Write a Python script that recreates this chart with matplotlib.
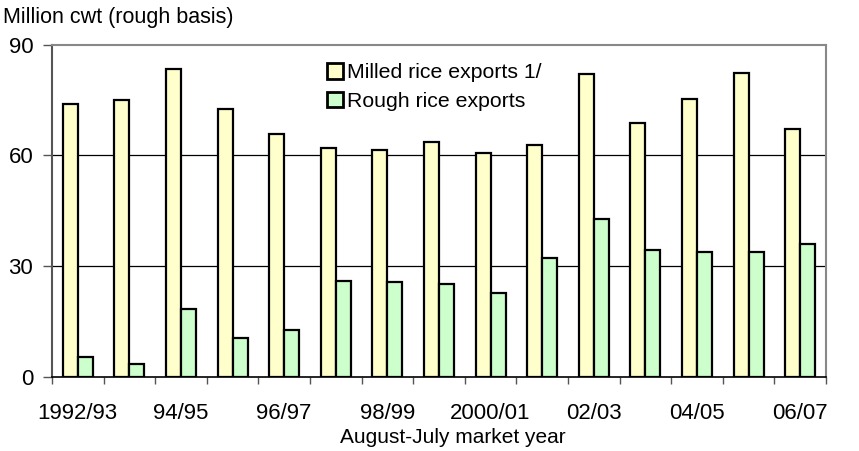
import matplotlib
matplotlib.use("Agg")
import matplotlib.pyplot as plt
import numpy as np

plt.rcParams["font.family"] = ["Liberation Sans", "DejaVu Sans"]

# Market years (August-July)
years = ["1992/93", "93/94", "94/95", "95/96", "96/97", "97/98", "98/99", "99/00",
         "2000/01", "01/02", "02/03", "03/04", "04/05", "05/06", "06/07"]
milled = [73.9, 75.1, 83.5, 72.7, 65.8, 62.0, 61.4, 63.7,
          60.6, 62.7, 82.0, 68.8, 75.3, 82.2, 67.1]
rough = [5.3, 3.4, 18.3, 10.6, 12.7, 26.0, 25.6, 25.0,
         22.8, 32.3, 42.7, 34.3, 33.9, 33.9, 36.0]
yticks = [0, 30, 60, 90]

MILLED_COLOR = "#FFFFCC"
ROUGH_COLOR = "#CCFFCC"

fig = plt.figure(figsize=(8.59, 4.51), dpi=100)
ax = fig.add_axes([0.0605, 0.1647, 0.9011, 0.7362])

x = np.arange(len(years))
w = 0.29
ax.bar(x - w / 2, milled, width=w, color=MILLED_COLOR, edgecolor="black",
       linewidth=1.6, label="Milled rice exports 1/", zorder=3)
ax.bar(x + w / 2, rough, width=w, color=ROUGH_COLOR, edgecolor="black",
       linewidth=1.6, label="Rough rice exports", zorder=3)

ax.set_xlim(-0.5, len(years) - 0.5)
ax.set_ylim(0, 90)

# gridlines at 30 and 60 only
for v in yticks[1:-1]:
    ax.axhline(v, color="black", linewidth=0.9, zorder=1)

ax.set_yticks(yticks)
ax.set_yticklabels([str(v) for v in yticks], fontsize=16)
ax.tick_params(axis="y", direction="out", length=6.5, width=1, pad=7, color="#555555")

# ticks at category boundaries, labels on every other category
ax.set_xticks(np.arange(len(years) + 1) - 0.5)
ax.set_xticklabels([])
ax.tick_params(axis="x", direction="out", length=5, width=1, color="#555555")
ax.set_xticks(x[::2], minor=True)
ax.set_xticklabels(years[::2], minor=True, fontsize=16)
ax.tick_params(axis="x", which="minor", length=0, pad=19)

for side in ["top", "right"]:
    ax.spines[side].set_color("#888888")
    ax.spines[side].set_linewidth(1.5)
ax.spines["left"].set_color("#555555")
ax.spines["left"].set_linewidth(1.5)
ax.spines["bottom"].set_color("black")
ax.spines["bottom"].set_linewidth(1.2)

fig.text(0.004, 0.962, "Million cwt (rough basis)", fontsize=15.5, va="center", ha="left")
fig.text(0.527, 0.029, "August-July market year", fontsize=15, va="center", ha="center")

leg = ax.legend(loc="upper left", bbox_to_anchor=(0.381, 0.86),
                bbox_transform=fig.transFigure, frameon=False, fontsize=15.3,
                handlelength=0.75, handleheight=0.75, handletextpad=0.2,
                labelspacing=0.45, borderpad=0, borderaxespad=0)
for h in leg.legend_handles:
    h.set_linewidth(2)

fig.savefig("out.png", dpi=100)
